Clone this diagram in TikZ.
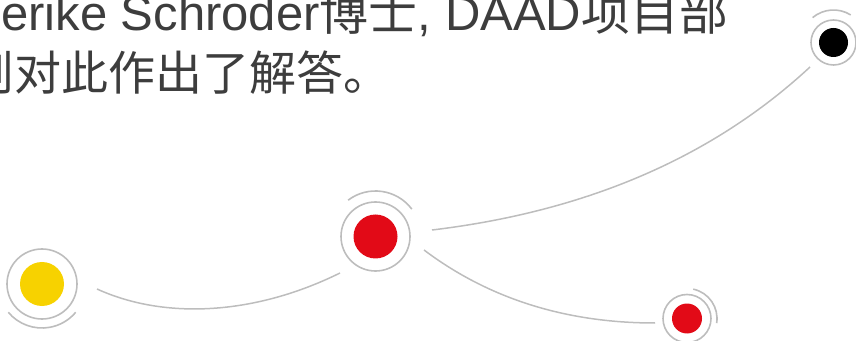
\documentclass[tikz,border=0pt]{standalone}
\usepackage{fontspec}
\setmainfont{Liberation Sans}
\newfontfamily\cjk{Noto Sans CJK SC}
\usetikzlibrary{calc}
\definecolor{txt}{HTML}{3D3D3D}
\definecolor{ringc}{HTML}{BDBDBD}
\definecolor{dyellow}{HTML}{F7D200}
\definecolor{dred}{HTML}{E20A17}
\tikzset{
  disc/.style={circle, inner sep=0pt, minimum size=#1},
  ring/.style={circle, draw=ringc, line width=1.6pt, inner sep=0pt, minimum size=#1},
  halo/.style={draw=ringc, line width=1.6pt},
  link/.style={draw=ringc, line width=1.5pt},
  txtline/.style={anchor=base west, inner sep=0pt, text=txt}
}
\begin{document}
\begin{tikzpicture}[x=1pt,y=1pt]
\useasboundingbox (0,0) rectangle (856,340);
\begin{scope}
\clip (0,0) rectangle (856,340);
% text
\node[txtline, font=\fontsize{49}{56}\selectfont] (t1) at (1,309.5) {erike Schroder{\cjk 博士}, DAAD{\cjk 项目部}};
\node[txtline, font=\fontsize{47}{56}\selectfont] (t2) at (-33,249) {\cjk 则对此作出了解答。};
% yellow
\node[disc=44pt, fill=dyellow] (Y) at (42,56) {};
\node[ring=70pt] (Yr) at (Y) {};
\draw[halo] ([shift={(220:44)}]Y.center) arc (220:320:44);
% big red
\node[disc=44pt, fill=dred] (R) at (375.5,103.5) {};
\node[ring=69pt] (Rr) at (R) {};
\draw[halo] ([shift={(37:45.5)}]R.center) arc (37:127:45.5);
% small red
\node[disc=30pt, fill=dred] (S) at (687,21.5) {};
\node[ring=48pt] (Sr) at (S) {};
\draw[halo] ([shift={(-9:30)}]S.center) arc (-9:78:30);
% black
\node[disc=29pt, fill=black] (B) at (833.5,297.5) {};
\node[ring=45pt] (Br) at (B) {};
\draw[halo] ([shift={(58:32.5)}]B.center) arc (58:130:32.5);
% connectors
\coordinate (a1) at ($(Y)+(55,-5)$);
\coordinate (a2) at ($(R)+(-35.5,-36.5)$);
\draw[link] (a1) .. controls ($(a1)+(68,-31)$) and ($(a2)+(-85,-42)$) .. (a2);
\coordinate (b1) at ($(R)+(56.5,6.5)$);
\coordinate (b2) at ($(B)+(-23.5,-24.5)$);
\draw[link] (b1) .. controls ($(b1)+(155,18.6)$) and ($(b2)+(-97,-90)$) .. (b2);
\coordinate (c1) at ($(R)+(48.5,-13.5)$);
\coordinate (c2) at ($(S)+(-32,-4.5)$);
\draw[link] (c1) .. controls ($(c1)+(64.7,-48.7)$) and ($(c2)+(-89,0)$) .. (c2);
\end{scope}
\end{tikzpicture}
\end{document}
